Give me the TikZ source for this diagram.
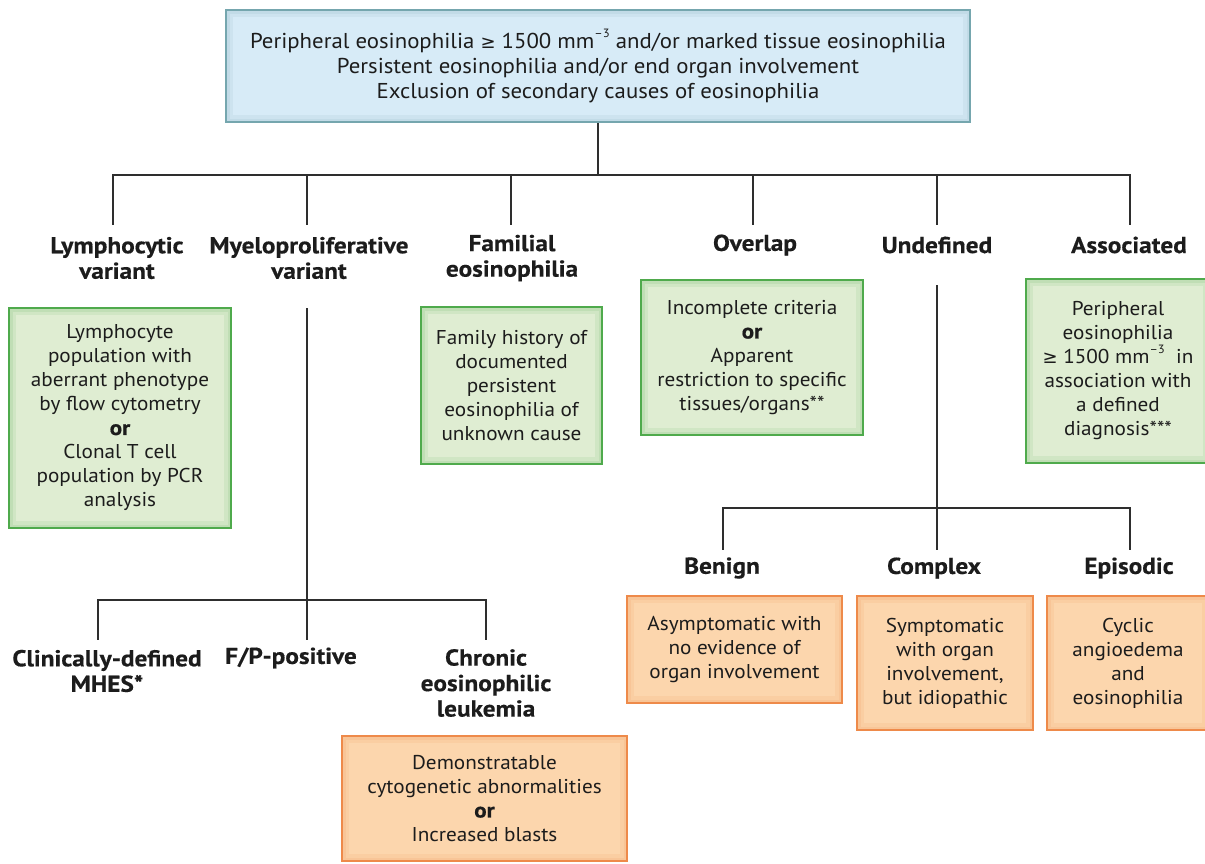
\documentclass[tikz,border=0pt]{standalone}
\usepackage{fontspec}
\setmainfont{PT Sans}[FakeStretch=1.06]
\newfontfamily\lblf{PT Sans}[UprightFont={* Bold}, FakeStretch=1.1, FakeBold=0.4]
\newfontfamily\symf{DejaVu Sans}
\definecolor{bluefill}{HTML}{D7EBF7}
\definecolor{blueline}{HTML}{75A6AE}
\definecolor{greenfill}{HTML}{DFEDD2}
\definecolor{greenline}{HTML}{4FAA4C}
\definecolor{orangefill}{HTML}{FCD6AD}
\definecolor{orangeline}{HTML}{EE8A4A}
\definecolor{linec}{HTML}{2E2E2E}
\definecolor{txt}{HTML}{1C1C1C}
\newcommand{\bor}{{\lblf\fontsize{21}{24}\selectfont or}}
\newcommand{\gsym}{{\symf\fontsize{18}{24}\selectfont ≥}}
\newcommand{\supm}{\raisebox{0.5em}{\fontsize{12}{12}\selectfont –3}}
\begin{document}
\begin{tikzpicture}[x=1pt,y=-1pt,
  conn/.style={draw=linec, line width=2.6pt},
  lbl/.style={font=\lblf\fontsize{23}{25.5}\selectfont, align=center, inner sep=0pt, text=txt},
  body/.style={font=\fontsize{20}{24}\selectfont, align=center, inner sep=0pt, line width=2pt, text=txt},
  glow/.style={path picture={
     \draw[#1, line width=14pt, opacity=0.10] (path picture bounding box.south west) rectangle (path picture bounding box.north east);
     \draw[#1, line width=7pt, opacity=0.12] (path picture bounding box.south west) rectangle (path picture bounding box.north east);}},
  gbox/.style={body, draw=greenline, fill=greenfill, glow=greenline},
  obox/.style={body, draw=orangeline, fill=orangefill, glow=orangeline},
  bbox/.style={body, font=\fontsize{21.5}{25}\selectfont, draw=blueline, fill=bluefill, glow=blueline},
]
\useasboundingbox (0,0) rectangle (1205,863);

% top box
\node[bbox, minimum width=744pt, minimum height=112pt] (top) at (598,66)
  {Peripheral eosinophilia \gsym\ 1500 mm\supm\ and/or marked tissue eosinophilia\\
   Persistent eosinophilia and/or end organ involvement\\
   Exclusion of secondary causes of eosinophilia};

% first-level labels
\node[lbl] (lym) at (117,258) {Lymphocytic\\variant};
\node[lbl] (mye) at (309,258) {Myeloproliferative\\variant};
\node[lbl] (fam) at (512,258) {Familial\\eosinophilia};
\node[lbl] (ovl) at (755,245) {Overlap};
\node[lbl] (und) at (937,245) {Undefined};
\node[lbl] (ass) at (1129,245) {Associated};

% green boxes
\node[gbox, minimum width=222pt, minimum height=220pt] (lymbox) at (120,418)
  {Lymphocyte\\population with\\aberrant phenotype\\by flow cytometry\\\bor\\Clonal T cell\\population by PCR\\analysis};
\node[gbox, minimum width=181pt, minimum height=157pt] (fambox) at (511.5,385.5)
  {Family history of\\documented\\persistent\\eosinophilia of\\unknown cause};
\node[gbox, minimum width=222pt, minimum height=155pt] (ovlbox) at (752,357.5)
  {Incomplete criteria\\\bor\\Apparent\\restriction to specific\\tissues/organs**};
\node[gbox, minimum width=184pt, minimum height=184pt] (assbox) at (1118,371)
  {Peripheral\\eosinophilia\\\gsym\ 1500 mm\supm\ \ in\\association with\\a defined\\diagnosis***};

% second-level labels (myeloproliferative)
\node[lbl] (clin) at (107,671) {Clinically-defined\\MHES*};
\node[lbl] (fp) at (291,658) {F/P-positive};
\node[lbl] (cel) at (486,683) {Chronic\\eosinophilic\\leukemia};
\node[obox, minimum width=285pt, minimum height=125pt] (celbox) at (484.5,798.5)
  {Demonstratable\\cytogenetic abnormalities\\\bor\\Increased blasts};

% second-level labels (undefined)
\node[lbl] (ben) at (722,568) {Benign};
\node[lbl] (cpx) at (934,568) {Complex};
\node[lbl] (epi) at (1129,568) {Episodic};
\node[obox, minimum width=215pt, minimum height=107pt] (benbox) at (734.5,649.5)
  {Asymptomatic with\\no evidence of\\organ involvement};
\node[obox, minimum width=176pt, minimum height=134pt] (cpxbox) at (945,663)
  {Symptomatic\\with organ\\involvement,\\but idiopathic};
\node[obox, minimum width=162pt, minimum height=134pt] (epibox) at (1128,663)
  {Cyclic\\angioedema\\and\\eosinophilia};

% connector junctions
\coordinate (hub) at (598,175);
\coordinate (d1) at (113,225);
\coordinate (d2) at (307,225);
\coordinate (d3) at (511,225);
\coordinate (d4) at (753,225);
\coordinate (d5) at (937,225);
\coordinate (d6) at (1130,225);
\draw[conn] (top.south) -- (hub);
\foreach \d in {d1,d2,d3,d4,d5,d6} \draw[conn] (hub) -| (\d);

\coordinate (m0) at (307,308);
\coordinate (hub2) at (307,600);
\coordinate (e1) at (98,640);
\coordinate (e2) at (307,640);
\coordinate (e3) at (486,640);
\draw[conn] (m0) -- (hub2);
\foreach \d in {e1,e2,e3} \draw[conn] (hub2) -| (\d);

\coordinate (u0) at (937,285);
\coordinate (hub3) at (937,508);
\coordinate (f1) at (723,550);
\coordinate (f2) at (937,550);
\coordinate (f3) at (1130,550);
\draw[conn] (u0) -- (hub3);
\foreach \d in {f1,f2,f3} \draw[conn] (hub3) -| (\d);
\end{tikzpicture}
\end{document}
